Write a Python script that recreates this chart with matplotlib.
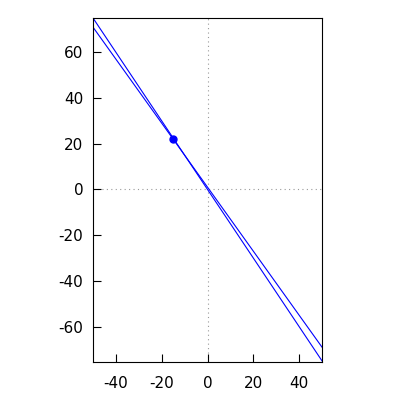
import matplotlib
matplotlib.use("Agg")
import matplotlib.pyplot as plt

plt.rcParams["axes.unicode_minus"] = False

# two lines and the point where they meet
line1_x = [-50, 50]
line1_y = [75, -75]
line2_x = [-50, 50]
line2_y = [71, -69]
point_x = [-15]
point_y = [22]

xticks = [-40, -20, 0, 20, 40]
yticks = [-60, -40, -20, 0, 20, 40, 60]

fig = plt.figure(figsize=(4, 4), dpi=100)
ax = fig.add_axes([0.2325, 0.095, 0.5725, 0.86])

ax.axhline(0, color="#999999", lw=0.8, ls=(0, (1, 3)), zorder=1)
ax.axvline(0, color="#999999", lw=0.8, ls=(0, (1, 3)), zorder=1)
ax.plot(line1_x, line1_y, color="#0000ff", lw=0.8, zorder=2)
ax.plot(line2_x, line2_y, color="#0000ff", lw=0.8, zorder=2)
ax.plot(point_x, point_y, "o", color="#0000ff", ms=5, zorder=3)

ax.set_xlim(-50, 50)
ax.set_ylim(-75.5, 75)
ax.set_xticks(xticks)
ax.set_yticks(yticks)
ax.tick_params(direction="in", length=6, width=0.8, labelsize=11,
               top=False, right=False)
ax.tick_params(axis="x", pad=10)
ax.tick_params(axis="y", pad=7)
for s in ax.spines.values():
    s.set_linewidth(0.8)

fig.savefig("out.png", dpi=100)
